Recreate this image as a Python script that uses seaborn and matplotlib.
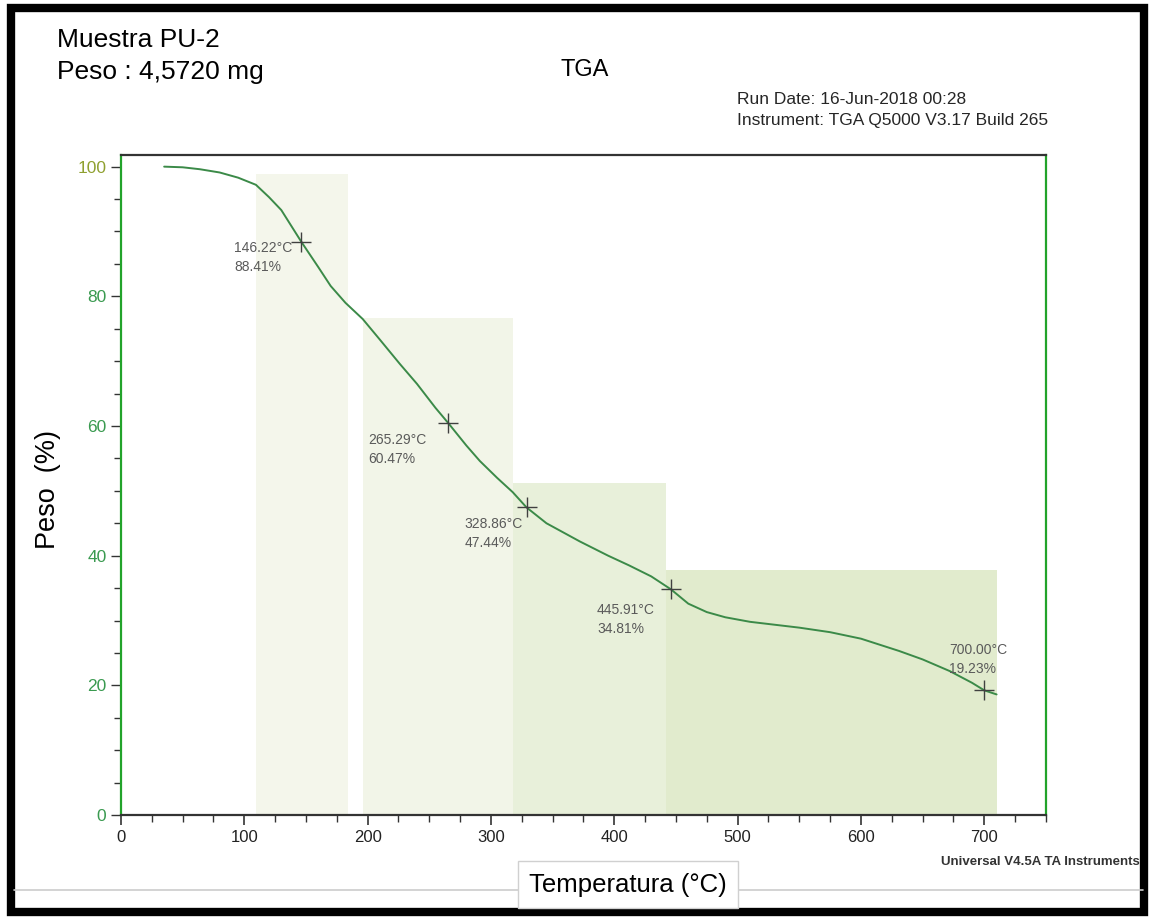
import numpy as np
import pandas as pd
import seaborn as sns
import matplotlib.pyplot as plt
from matplotlib.patches import Rectangle
from matplotlib.ticker import MultipleLocator

# curva TGA
temp = [35, 50, 64, 80, 95, 109.4, 120, 130, 146.22, 160, 170, 182, 196, 210, 226, 240,
        255, 265.29, 280, 291, 305, 317.6, 328.86, 345, 372, 395, 412, 430, 445.91, 460,
        475, 490, 510, 550, 575, 600, 631, 650, 672, 690, 700, 710]
peso = [100, 99.9, 99.6, 99.1, 98.3, 97.2, 95.3, 93.3, 88.41, 84.5, 81.6, 79.0, 76.5, 73.3,
        69.6, 66.5, 62.8, 60.47, 57.0, 54.6, 52.0, 49.8, 47.44, 45.0, 42.2, 40.0, 38.5, 36.8,
        34.81, 32.6, 31.3, 30.5, 29.8, 28.9, 28.2, 27.2, 25.3, 24.0, 22.2, 20.4, 19.23, 18.6]

# puntos marcados
pt_temp = [146.22, 265.29, 328.86, 445.91, 700.00]
pt_peso = [88.41, 60.47, 47.44, 34.81, 19.23]

# rectangulos sombreados
rect_left = [109.4, 196, 317.6, 441.6]
rect_right = [184, 317.6, 441.6, 710.7]
rect_top = [98.8, 76.7, 51.2, 37.8]
rect_color = ['#f4f6eb', '#f2f5e8', '#e8f0da', '#e1ebcd']

sns.set_style("white")
plt.rcParams['font.family'] = ['Liberation Sans', 'DejaVu Sans']

fig = plt.figure(figsize=(11.49, 9.17), dpi=100)
ax = fig.add_axes([0.1053, 0.1112, 0.805, 0.7198])

ax.bar(rect_left, rect_top, width=np.array(rect_right) - np.array(rect_left),
       align='edge', color=rect_color, edgecolor='none', zorder=1)

df = pd.DataFrame({'T': temp, 'P': peso})
sns.lineplot(data=df, x='T', y='P', color='#3b8a48', linewidth=1.4, sort=False, ax=ax, zorder=3)
sns.scatterplot(x=pt_temp, y=pt_peso, marker='+', s=220, color='#404040', linewidth=1.0, ax=ax, zorder=4)

offsets = [(-67, 1), (-80, -10), (-62, -10), (-74, -14), (-35, 47)]
for t, p, off in zip(pt_temp, pt_peso, offsets):
    ax.annotate(f"{t:.2f}°C\n{p:.2f}%", xy=(t, p), xytext=off, textcoords='offset pixels',
                ha='left', va='top', fontsize=10, color='#5a5a5a', linespacing=1.45, zorder=5)

ax.set_xlim(0, 750)
ax.set_ylim(0, 101.8)
ax.xaxis.set_major_locator(MultipleLocator(100))
ax.xaxis.set_minor_locator(MultipleLocator(25))
ax.yaxis.set_major_locator(MultipleLocator(20))
ax.yaxis.set_minor_locator(MultipleLocator(5))
ax.tick_params(which='both', direction='out', bottom=True, left=True, color='#333333')
ax.tick_params(axis='x', which='major', length=7, width=1.2, labelsize=12, labelcolor='#222222')
ax.tick_params(axis='x', which='minor', length=5, width=1.0)
ax.tick_params(axis='y', which='major', length=7, width=1.0, labelsize=12.5, labelcolor='#3a9a50')
ax.tick_params(axis='y', which='minor', length=5, width=1.0)
ax.set_xlabel('')
ax.set_ylabel('')
for lab in ax.get_yticklabels():
    if lab.get_text() == '100':
        lab.set_color('#8fa030')

for s in ['left', 'right']:
    ax.spines[s].set_color('#22a32a')
    ax.spines[s].set_linewidth(1.6)
for s in ['top', 'bottom']:
    ax.spines[s].set_color('#333333')
    ax.spines[s].set_linewidth(1.6)

# textos
fig.text(0.0496, 0.9564, 'Muestra PU-2', fontsize=19, va='center', ha='left', color='black')
fig.text(0.0496, 0.9215, 'Peso : 4,5720 mg', fontsize=19, va='center', ha='left', color='black')
fig.text(0.509, 0.9237, 'TGA', fontsize=17, va='center', ha='center', color='black')
fig.text(0.6414, 0.891, 'Run Date: 16-Jun-2018 00:28', fontsize=12.5, va='center', ha='left')
fig.text(0.6414, 0.869, 'Instrument: TGA Q5000 V3.17 Build 265', fontsize=12.5, va='center', ha='left')
fig.text(0.042, 0.466, 'Peso  (%)', fontsize=19.5, rotation=90, va='center', ha='center', color='black')
fig.text(0.992, 0.06, 'Universal V4.5A TA Instruments', fontsize=9.5, fontweight='bold',
         color='#333333', va='center', ha='right')

# marco y lineas del escaneo
fig.add_artist(plt.Line2D([0.012, 0.995], [0.0295, 0.0295], color='#cccccc', lw=1.2,
                          transform=fig.transFigure))
fig.text(0.5466, 0.035, 'Temperatura (°C)', fontsize=18.5, va='center', ha='center', color='black',
         bbox=dict(boxstyle='square,pad=0.45', facecolor='white', edgecolor='#d0d0d0', lw=1))
fig.add_artist(Rectangle((0.0096, 0.0055), 0.986, 0.9858, transform=fig.transFigure,
                         fill=False, edgecolor='black', lw=6))

fig.savefig('out.png', dpi=100)
